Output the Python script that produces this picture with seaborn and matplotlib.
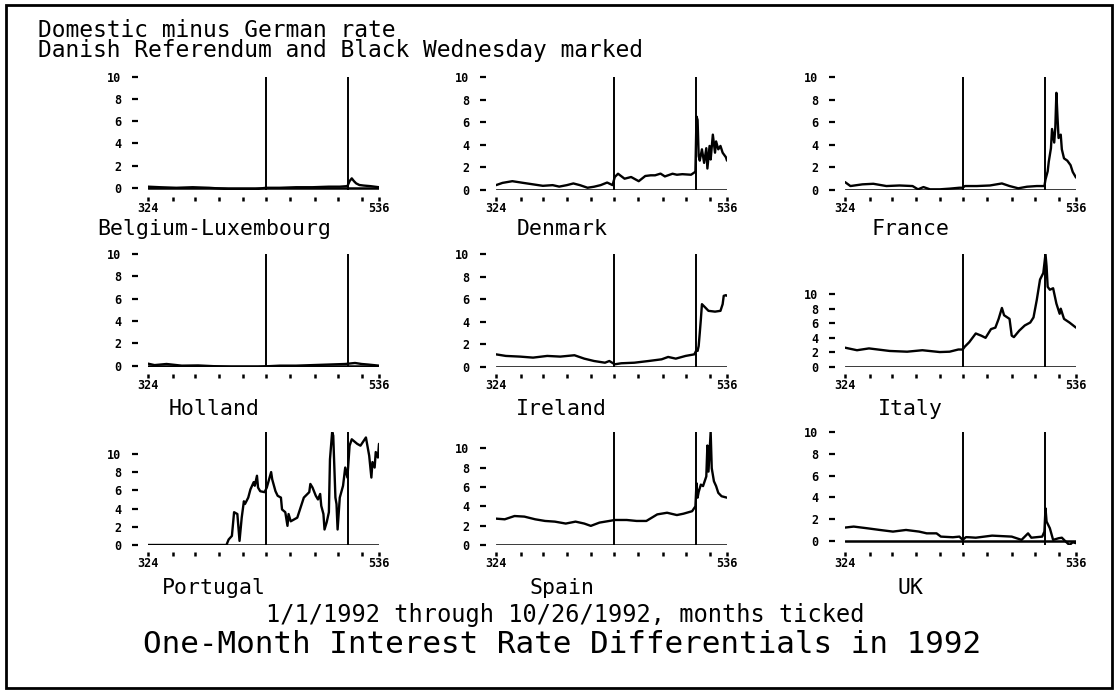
import matplotlib
matplotlib.use("Agg")
import matplotlib.pyplot as plt
from matplotlib.patches import Rectangle
import seaborn as sns

# ---------------- data (observation number = business day, 324 = 1/1/1992) ----------------
COUNTRIES = ["Belgium-Luxembourg", "Denmark", "France",
             "Holland", "Ireland", "Italy",
             "Portugal", "Spain", "UK"]

EVENT_DAYS = [432, 508]          # Danish Referendum, Black Wednesday
MONTH_TICKS = [347, 367, 389, 411, 432, 454, 477, 498, 520]
END_TICKS = [324, 536]
Y_TICKS = [0, 2, 4, 6, 8, 10]

BELGIUM_DAYS = [324, 335, 350, 365, 380, 395, 405, 415, 425, 432, 445, 460, 475, 490, 500, 507, 509, 511, 513, 515,
                518, 522, 528, 536]
BELGIUM = [0.1, 0.05, 0.0, 0.05, 0.0, -0.1, -0.2, -0.2, -0.1, 0.0, 0.0, 0.05, 0.05, 0.1, 0.1, 0.15, 0.6, 0.85, 0.6, 0.4,
           0.25, 0.2, 0.15, 0.05]

DENMARK_DAYS = [324, 330, 339, 349, 358, 367, 376, 382, 389, 395, 401, 408, 414, 420, 426, 431, 433, 436, 442, 448,
                455, 461, 466, 470, 475, 479, 486, 490, 495, 503, 506, 507, 508, 509, 510, 511, 513, 515, 517, 518,
                520, 521, 523, 525, 526, 528, 530, 532, 535, 536]
DENMARK = [0.43, 0.63, 0.78, 0.63, 0.5, 0.37, 0.43, 0.3, 0.43, 0.58, 0.43, 0.2, 0.29, 0.43, 0.66, 0.43, 1.15, 1.44, 1.0, 1.15,
           0.78, 1.24, 1.3, 1.3, 1.45, 1.2, 1.44, 1.35, 1.4, 1.35, 1.55, 1.6, 6.5, 6.2, 3.0, 2.6, 3.6, 2.4, 3.7, 1.9,
           3.9, 2.7, 4.9, 3.3, 4.3, 3.6, 3.9, 3.3, 2.9, 2.6]

FRANCE_DAYS = [324, 329, 340, 350, 362, 374, 386, 391, 396, 402, 411, 420, 429, 432, 434, 445, 457, 468, 475, 483,
               491, 500, 507, 508, 510, 511, 513, 514, 516, 517, 518, 519, 520, 522, 523, 525, 528, 531, 533, 536]
FRANCE = [0.7, 0.35, 0.5, 0.55, 0.35, 0.4, 0.35, 0.06, 0.26, 0.06, 0.06, 0.12, 0.2, 0.2, 0.35, 0.35, 0.4, 0.58, 0.35, 0.15,
          0.29, 0.35, 0.35, 0.93, 1.65, 2.5, 3.7, 5.4, 4.2, 5.5, 8.6, 6.5, 4.6, 4.9, 3.6, 2.8, 2.6, 2.2, 1.6, 1.1]

HOLLAND_DAYS = [324, 330, 341, 355, 370, 385, 400, 412, 425, 432, 445, 460, 475, 490, 505, 510, 514, 520, 526, 531, 536]
HOLLAND = [0.18, 0.05, 0.15, 0.0, 0.02, -0.05, -0.12, -0.12, -0.12, -0.06, 0.0, 0.0, 0.05, 0.1, 0.15, 0.2, 0.24, 0.15,
           0.1, 0.05, 0.0]

IRELAND_DAYS = [324, 333, 346, 358, 371, 383, 396, 405, 414, 424, 428, 433, 439, 451, 464, 476, 482, 489, 498, 506,
                508, 509, 510, 511, 512, 513, 516, 519, 525, 530, 532, 533, 535, 536]
IRELAND = [1.12, 0.98, 0.92, 0.83, 0.98, 0.92, 1.04, 0.74, 0.53, 0.38, 0.53, 0.24, 0.33, 0.38, 0.53, 0.68, 0.89, 0.74, 0.98, 1.12,
           1.5, 1.42, 1.86, 3.0, 4.2, 5.56, 5.27, 4.97, 4.9, 4.97, 5.56, 6.3, 6.36, 6.3]

ITALY_DAYS = [324, 335, 346, 365, 381, 395, 411, 420, 428, 432, 434, 438, 444, 449, 453, 458, 462, 465, 468, 470,
              475, 477, 479, 484, 489, 494, 497, 500, 503, 506, 508, 509, 510, 512, 515, 518, 521, 522, 525, 530, 536]
ITALY = [2.65, 2.3, 2.55, 2.2, 2.1, 2.3, 2.05, 2.1, 2.4, 2.4, 2.8, 3.4, 4.6, 4.3, 4.0, 5.2, 5.4, 6.6, 8.1, 7.1,
         6.6, 4.3, 4.1, 5.0, 5.7, 6.1, 6.8, 9.2, 12.0, 12.9, 15.5, 13.8, 11.0, 10.6, 10.8, 8.7, 7.3, 8.0, 6.6, 6.1, 5.4]

PORTUGAL_DAYS = [324, 360, 396, 398, 401, 403, 406, 408, 410, 412, 413, 416, 418, 421, 422, 424, 425, 427, 431, 433,
                 437, 438, 441, 443, 446, 447, 450, 452, 453, 455, 458, 461, 464, 467, 472, 473, 475, 478, 480, 482,
                 483, 485, 486, 488, 490, 491, 493, 494, 496, 497, 498, 500, 503, 505, 507, 509, 511, 516, 519, 524,
                 527, 529, 530, 532, 533, 535, 536]
PORTUGAL = [0, 0, 0, 0.6, 1.0, 3.6, 3.4, 0.45, 3.0, 4.8, 4.5, 5.2, 6.1, 6.9, 6.5, 7.6, 6.3, 5.9, 5.8, 6.3,
            8.0, 7.2, 5.9, 5.4, 5.2, 3.9, 3.6, 2.1, 3.4, 2.6, 2.8, 3.0, 4.1, 5.2, 5.8, 6.7, 6.3, 5.4, 5.0, 5.6,
            4.3, 3.4, 1.7, 2.5, 3.6, 9.4, 12.4, 12.0, 5.2, 4.5, 1.7, 5.2, 6.5, 8.5, 7.4, 10.9, 11.6, 11.1, 10.9, 11.8,
            9.8, 7.4, 9.1, 8.5, 10.2, 9.6, 11.1]

SPAIN_DAYS = [324, 332, 341, 350, 360, 369, 378, 388, 397, 405, 411, 419, 428, 433, 444, 453, 462, 472, 481, 490,
              496, 504, 507, 508, 509, 510, 512, 514, 517, 518, 519, 521, 522, 524, 526, 528, 531, 536]
SPAIN = [2.73, 2.66, 3.0, 2.94, 2.66, 2.49, 2.42, 2.22, 2.42, 2.22, 1.98, 2.32, 2.49, 2.59, 2.59, 2.49, 2.49, 3.17, 3.34, 3.1,
         3.24, 3.5, 4.0, 6.4, 4.9, 5.5, 6.25, 6.1, 7.1, 10.3, 7.6, 11.7, 7.95, 6.6, 6.1, 5.4, 5.05, 4.9]

UK_DAYS = [324, 332, 344, 356, 368, 380, 392, 399, 408, 412, 423, 429, 432, 435, 438, 444, 459, 477, 486, 492,
           495, 505, 507, 508, 509, 512, 515, 520, 523, 526, 530, 533, 536]
UK = [1.23, 1.32, 1.17, 1.01, 0.86, 1.01, 0.86, 0.7, 0.7, 0.4, 0.34, 0.4, 0.1, 0.35, 0.34, 0.3, 0.49, 0.4, 0.1, 0.7,
      0.3, 0.4, 0.86, 3.0, 1.78, 1.17, 0.1, 0.25, 0.3, 0.0, -0.37, -0.12, -0.2]

SERIES = [(BELGIUM_DAYS, BELGIUM), (DENMARK_DAYS, DENMARK), (FRANCE_DAYS, FRANCE),
          (HOLLAND_DAYS, HOLLAND), (IRELAND_DAYS, IRELAND), (ITALY_DAYS, ITALY),
          (PORTUGAL_DAYS, PORTUGAL), (SPAIN_DAYS, SPAIN), (UK_DAYS, UK)]

HEADER = ["Domestic minus German rate", "Danish Referendum and Black Wednesday marked"]
SUBTITLE = "1/1/1992 through 10/26/1992, months ticked"
TITLE = "One-Month Interest Rate Differentials in 1992"

# ---------------- style ----------------
sns.set_theme(style="white")
plt.rcParams["font.family"] = ["DejaVu Sans Mono", "DejaVu Sans"]

W, H = 1118, 692
fig = plt.figure(figsize=(W / 100, H / 100), dpi=100)
fig.patch.set_facecolor("white")

COL_LEFT = [148, 496, 845]
ROW_TOP = [77, 254, 432]
AX_W, AX_H = 231, 113
LABEL_BASE = [235, 415, 594]

tick_font = dict(family="DejaVu Sans Mono", weight="bold", size=8.5)

for i, (name, (days, vals)) in enumerate(zip(COUNTRIES, SERIES)):
    r, c = divmod(i, 3)
    left, top = COL_LEFT[c], ROW_TOP[r]
    ax = fig.add_axes([left / W, 1 - (top + AX_H) / H, AX_W / W, AX_H / H])
    ax.set_facecolor("none")

    sns.lineplot(x=days, y=vals, ax=ax, color="black", linewidth=1.7)
    ax.axhline(0, color="black", linewidth=1.8)
    for d in EVENT_DAYS:
        ax.axvline(d, color="black", linewidth=1.4)

    ax.set_xlim(END_TICKS[0], END_TICKS[1])
    ax.set_ylim(min(0, min(vals)), max(10, max(vals)))

    for s in ax.spines.values():
        s.set_visible(False)
    ax.spines["left"].set_position(("outward", 7))
    ax.spines["bottom"].set_position(("outward", 5))

    ax.set_yticks(Y_TICKS)
    ax.set_yticklabels([str(v) for v in Y_TICKS], fontdict=tick_font)
    ax.set_xticks(END_TICKS)
    ax.set_xticklabels([str(v) for v in END_TICKS], fontdict=tick_font)
    ax.set_xticks(MONTH_TICKS, minor=True)
    ax.tick_params(axis="y", which="major", left=True, length=4, width=1.6,
                   pad=8, color="black", labelcolor="black", direction="out")
    ax.tick_params(axis="x", which="both", bottom=True, length=3, width=1.8,
                   pad=0.5, color="black", labelcolor="black", direction="out")
    ax.set_xlabel("")
    ax.set_ylabel("")
    ax.grid(False)

    fig.text((left + 0.285 * AX_W) / W, 1 - LABEL_BASE[r] / H, name,
             ha="center", va="baseline", fontsize=15.5, color="black")

fig.text(38 / W, 1 - 19 / H, "\n".join(HEADER), ha="left", va="top",
         fontsize=16.5, linespacing=0.82, color="black")
fig.text(565 / W, 1 - 622 / H, SUBTITLE, ha="center", va="baseline", fontsize=17, color="black")
fig.text(562 / W, 1 - 653 / H, TITLE, ha="center", va="baseline", fontsize=22.3, color="black")

fig.add_artist(Rectangle((6 / W, 1 - 688 / H), (1112 - 6) / W, (688 - 5) / H,
                         transform=fig.transFigure, fill=False, edgecolor="black", linewidth=2))

fig.savefig("out.png", dpi=100, facecolor="white")
